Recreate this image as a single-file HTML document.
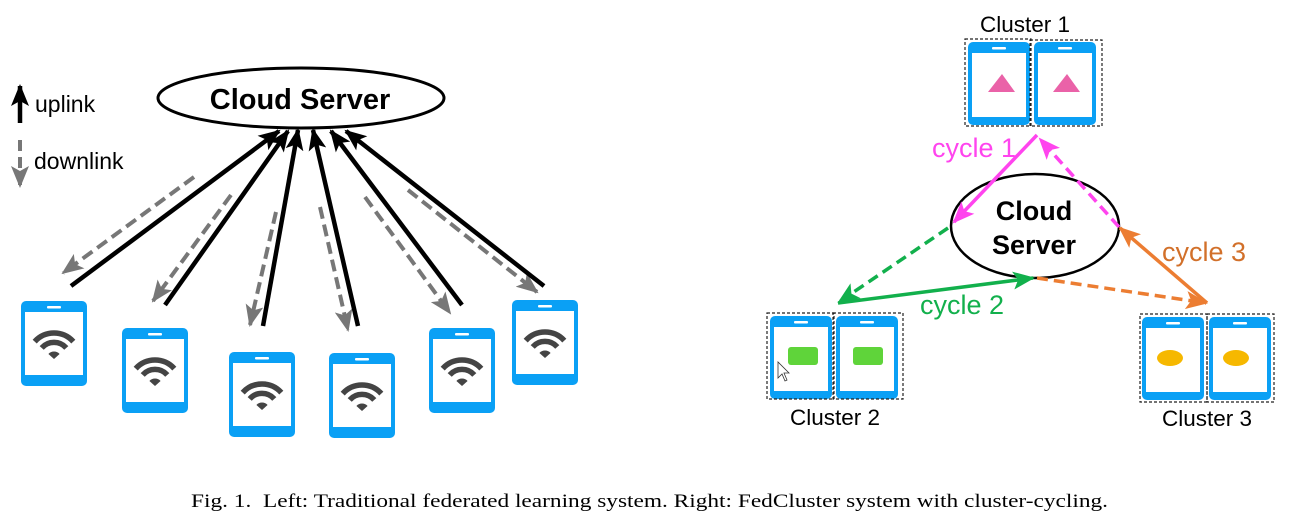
<!DOCTYPE html>
<html><head><meta charset="utf-8"><style>
html,body{margin:0;padding:0;background:#fff;}
svg{display:block;}
</style></head><body>
<svg width="1289" height="526" viewBox="0 0 1289 526" xmlns="http://www.w3.org/2000/svg">
<defs>
<g id="lphone">
<rect x="0" y="0" width="66" height="85" rx="5" fill="#0aa0f5"/>
<rect x="4" y="11" width="58" height="63" fill="#fff"/>
<rect x="26" y="5" width="14" height="2.5" rx="1" fill="#fff"/>
<g transform="translate(33,58)" fill="none" stroke="#444" stroke-width="5.5">
<path d="M-19.3,-17.4 A26,26 0 0 1 19.3,-17.4"/>
<path d="M-12.3,-11.1 A16.5,16.5 0 0 1 12.3,-11.1"/>
<path d="M0,0 L-5.6,-5 A7.5,7.5 0 0 1 5.6,-5 Z" fill="#444" stroke="none"/>
</g>
</g>
<g id="rphone">
<rect x="0" y="0" width="62" height="83" rx="5" fill="#0aa0f5"/>
<rect x="4" y="11" width="54" height="64" fill="#fff"/>
<rect x="24" y="5" width="14" height="2.5" rx="1" fill="#fff"/>
</g>
<marker id="ab" markerUnits="userSpaceOnUse" markerWidth="22" markerHeight="18" viewBox="0 0 22 18" refX="20" refY="9" orient="auto"><path d="M0,0 L22,9 L0,18 L5,9 Z" fill="#000"/></marker>
<marker id="ag" markerUnits="userSpaceOnUse" markerWidth="22" markerHeight="18" viewBox="0 0 22 18" refX="20" refY="9" orient="auto"><path d="M0,0 L22,9 L0,18 L5,9 Z" fill="#777"/></marker>
<marker id="am" markerUnits="userSpaceOnUse" markerWidth="22" markerHeight="18" viewBox="0 0 22 18" refX="20" refY="9" orient="auto"><path d="M0,0 L22,9 L0,18 L5,9 Z" fill="#ff44ee"/></marker>
<marker id="agr" markerUnits="userSpaceOnUse" markerWidth="22" markerHeight="18" viewBox="0 0 22 18" refX="20" refY="9" orient="auto"><path d="M0,0 L22,9 L0,18 L5,9 Z" fill="#12b04c"/></marker>
<marker id="ao" markerUnits="userSpaceOnUse" markerWidth="22" markerHeight="18" viewBox="0 0 22 18" refX="20" refY="9" orient="auto"><path d="M0,0 L22,9 L0,18 L5,9 Z" fill="#ec7d32"/></marker>
</defs>

<!-- LEFT -->
<ellipse cx="301" cy="98" rx="143" ry="30" fill="#fff" stroke="#000" stroke-width="3"/>
<text x="300" y="109" text-anchor="middle" font-family="Liberation Sans, sans-serif" font-weight="bold" font-size="29">Cloud Server</text>

<!-- legend -->
<line x1="20" y1="123" x2="20" y2="86" stroke="#000" stroke-width="4.5" marker-end="url(#ab)"/>
<text x="35" y="112" font-family="Liberation Sans, sans-serif" font-size="23">uplink</text>
<line x1="20" y1="140" x2="20" y2="186" stroke="#777" stroke-width="4" stroke-dasharray="11 6" marker-end="url(#ag)"/>
<text x="34" y="169" font-family="Liberation Sans, sans-serif" font-size="23">downlink</text>

<!-- downlink dashed -->
<g stroke="#777" stroke-width="4" stroke-dasharray="12 6" fill="none">
<line x1="194" y1="177" x2="63" y2="273" marker-end="url(#ag)"/>
<line x1="231" y1="195" x2="153" y2="301" marker-end="url(#ag)"/>
<line x1="276" y1="212" x2="250" y2="325" marker-end="url(#ag)"/>
<line x1="320" y1="207" x2="348" y2="330" marker-end="url(#ag)"/>
<line x1="365" y1="197" x2="450" y2="313" marker-end="url(#ag)"/>
<line x1="408" y1="190" x2="537" y2="292" marker-end="url(#ag)"/>
</g>
<!-- uplink -->
<g stroke="#000" stroke-width="4.5" fill="none">
<line x1="71" y1="286" x2="279" y2="131" marker-end="url(#ab)"/>
<line x1="165" y1="305" x2="288" y2="131" marker-end="url(#ab)"/>
<line x1="263" y1="326" x2="298" y2="130" marker-end="url(#ab)"/>
<line x1="358" y1="326" x2="313" y2="130" marker-end="url(#ab)"/>
<line x1="462" y1="305" x2="331" y2="131" marker-end="url(#ab)"/>
<line x1="544" y1="286" x2="346" y2="131" marker-end="url(#ab)"/>
</g>

<use href="#lphone" x="21" y="301"/>
<use href="#lphone" x="122" y="328"/>
<use href="#lphone" x="229" y="352"/>
<use href="#lphone" x="329" y="353"/>
<use href="#lphone" x="429" y="328"/>
<use href="#lphone" x="512" y="300"/>

<!-- RIGHT -->
<g font-family="Liberation Sans, sans-serif" font-size="22.5" text-anchor="middle">
<text x="1025" y="32">Cluster 1</text>
<text x="835" y="425">Cluster 2</text>
<text x="1207" y="426">Cluster 3</text>
</g>

<!-- cluster 1 -->
<use href="#rphone" x="968" y="42"/>
<use href="#rphone" x="1034" y="42"/>
<polygon points="988,92 1002,74 1015,92" fill="#ea62a8"/>
<polygon points="1053,92 1067,74 1080,92" fill="#ea62a8"/>
<g fill="none" stroke="#222" stroke-width="1.2" stroke-dasharray="3 2">
<rect x="965" y="39" width="66" height="87"/>
<rect x="1030" y="40" width="72" height="86"/>
</g>

<!-- cluster 2 -->
<use href="#rphone" x="770" y="316"/>
<use href="#rphone" x="836" y="316"/>
<rect x="788" y="347" width="30" height="18" rx="3" fill="#5fd43a"/>
<rect x="853" y="347" width="30" height="18" rx="3" fill="#5fd43a"/>
<g fill="none" stroke="#222" stroke-width="1.2" stroke-dasharray="3 2">
<rect x="767" y="313" width="67" height="86"/>
<rect x="833" y="313" width="70" height="86"/>
</g>
<path d="M778,362 L778,378 L782,374 L785,381 L787,380 L784,373 L789,373 Z" fill="#fff" stroke="#333" stroke-width="0.8"/>

<!-- cluster 3 -->
<use href="#rphone" x="1142" y="317"/>
<use href="#rphone" x="1209" y="317"/>
<ellipse cx="1170" cy="358" rx="13" ry="8" fill="#f6b800"/>
<ellipse cx="1236" cy="358" rx="13" ry="8" fill="#f6b800"/>
<g fill="none" stroke="#222" stroke-width="1.2" stroke-dasharray="3 2">
<rect x="1140" y="314" width="67" height="88"/>
<rect x="1207" y="314" width="67" height="88"/>
</g>

<!-- server -->
<ellipse cx="1035" cy="226" rx="84" ry="52" fill="#fff" stroke="#000" stroke-width="2.5"/>
<g font-family="Liberation Sans, sans-serif" font-weight="bold" font-size="27" text-anchor="middle">
<text x="1034" y="220">Cloud</text>
<text x="1034" y="254">Server</text>
</g>

<!-- cycles -->
<line x1="1037" y1="135" x2="954" y2="222" stroke="#ff44ee" stroke-width="3.5" marker-end="url(#am)"/>
<line x1="1119" y1="227" x2="1040" y2="139" stroke="#ff44ee" stroke-width="3.5" stroke-dasharray="11 6" marker-end="url(#am)"/>
<line x1="948" y1="228" x2="839" y2="302" stroke="#12b04c" stroke-width="3.5" stroke-dasharray="11 6" marker-end="url(#agr)"/>
<line x1="838" y1="303" x2="1033" y2="278" stroke="#12b04c" stroke-width="3.5" marker-end="url(#agr)"/>
<line x1="1037" y1="278" x2="1206" y2="303" stroke="#ec7d32" stroke-width="3.5" stroke-dasharray="11 6" marker-end="url(#ao)"/>
<line x1="1207" y1="303" x2="1120" y2="228" stroke="#ec7d32" stroke-width="3.5" marker-end="url(#ao)"/>

<g font-family="Liberation Sans, sans-serif" font-size="27">
<text x="932" y="157" fill="#ff44ee">cycle 1</text>
<text x="920" y="314" fill="#12b04c">cycle 2</text>
<text x="1162" y="261" fill="#d2702a">cycle 3</text>
</g>

<!-- caption -->
<text x="191" y="507" font-family="Liberation Serif, serif" font-size="19" textLength="917" lengthAdjust="spacingAndGlyphs" xml:space="preserve">Fig. 1.  Left: Traditional federated learning system. Right: FedCluster system with cluster-cycling.</text>
</svg>
</body></html>
